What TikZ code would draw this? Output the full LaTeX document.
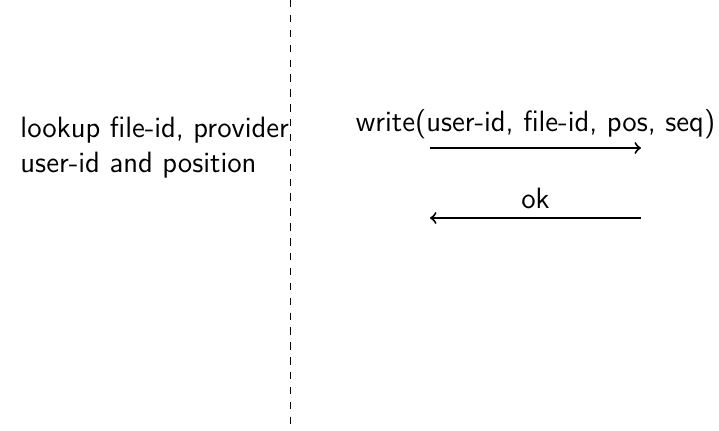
\documentclass[tikz,border=0pt]{standalone}
\begin{document}
\begin{tikzpicture}[x=0.4032pt,y=-0.4032pt,font=\sffamily\fontsize{11.85}{14.1}\selectfont]
  \tikzstyle{lifeline}=[dashed]
  \tikzstyle{msg}=[->,thick]
  \useasboundingbox (0,0) rectangle (719,430);
  \coordinate (L_1) at (290,0);
  \coordinate (L_2) at (290,430);
  \draw[lifeline] (L_1) -- (L_2);

  \node[anchor=base west, align=left, inner sep=0pt] (note) at (20,172) {lookup file-id, provider\\user-id and position};

  \coordinate (W_1) at (430,148);
  \coordinate (W_2) at (641,148);
  \coordinate (A_1) at (641,218);
  \coordinate (A_2) at (430,218);
  \path (W_1) edge [msg] node[above] {write(user-id, file-id, pos, seq)} (W_2)
        (A_1) edge [msg] node[above] {ok} (A_2);
\end{tikzpicture}
\end{document}
